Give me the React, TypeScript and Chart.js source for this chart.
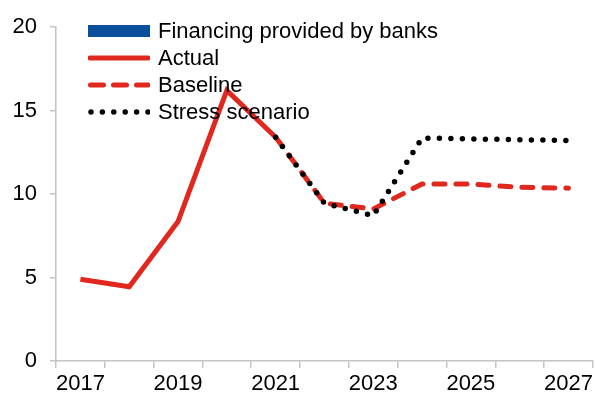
import React, { useEffect, useRef } from "react";
import { Chart, registerables } from "chart.js";

Chart.register(...registerables);

const years = ["2017", "2018", "2019", "2020", "2021", "2022", "2023", "2024", "2025", "2026", "2027"];
const bankFinancing: (number | null)[] = [null, null, null, null, null, null, null, null, null, null, null];
const actual: (number | null)[] = [4.9, 4.45, 8.35, 16.2, 13.4, null, null, null, null, null, null];
const baseline: (number | null)[] = [null, null, null, null, 13.4, 9.45, 9.1, 10.6, 10.6, 10.4, 10.35];
const stress: (number | null)[] = [null, null, null, null, 13.4, 9.45, 8.7, 13.35, 13.3, 13.25, 13.2];
const yTicks = [0, 5, 10, 15, 20];

const RED = "#e0281f";
const BLUE = "#0a4f9c";
const AXIS = "#c4c4c4";
const FONT = "'Liberation Sans', Arial, sans-serif";

const legendItems = [
  { label: "Financing provided by banks", kind: "box" },
  { label: "Actual", kind: "solid" },
  { label: "Baseline", kind: "dash" },
  { label: "Stress scenario", kind: "dot" },
];

function Symbol({ kind }: { kind: string }) {
  if (kind === "box") {
    return (
      <svg width={62} height={14} style={{ display: "block" }}>
        <rect x={0} y={1} width={62} height={12} fill={BLUE} />
      </svg>
    );
  }
  if (kind === "solid") {
    return (
      <svg width={62} height={14} style={{ display: "block" }}>
        <line x1={2} y1={7} x2={60} y2={7} stroke={RED} strokeWidth={5} strokeLinecap="round" />
      </svg>
    );
  }
  if (kind === "dash") {
    return (
      <svg width={62} height={14} style={{ display: "block" }}>
        <line x1={2.5} y1={7} x2={60} y2={7} stroke={RED} strokeWidth={5} strokeLinecap="round" strokeDasharray="13 10" />
      </svg>
    );
  }
  return (
    <svg width={62} height={14} style={{ display: "block" }}>
      <line x1={3} y1={7} x2={60} y2={7} stroke="#000" strokeWidth={5.5} strokeLinecap="round" strokeDasharray="0 11.4" />
    </svg>
  );
}

export default function App() {
  const canvasRef = useRef<HTMLCanvasElement | null>(null);

  useEffect(() => {
    if (!canvasRef.current) return;
    const chart = new Chart(canvasRef.current, {
      type: "bar",
      data: {
        labels: years,
        datasets: [
          {
            type: "bar",
            label: "Financing provided by banks",
            data: bankFinancing,
            backgroundColor: BLUE,
            order: 3,
          },
          {
            type: "line",
            label: "Actual",
            data: actual,
            borderColor: RED,
            borderWidth: 5,
            pointRadius: 0,
            borderJoinStyle: "miter",
            spanGaps: false,
            order: 2,
          },
          {
            type: "line",
            label: "Baseline",
            data: baseline,
            borderColor: RED,
            borderWidth: 5,
            borderDash: [11, 11],
            borderCapStyle: "round",
            pointRadius: 0,
            order: 1,
          },
          {
            type: "line",
            label: "Stress scenario",
            data: stress,
            borderColor: "#000",
            borderWidth: 5.5,
            borderDash: [0, 11.5],
            borderCapStyle: "round",
            pointRadius: 0,
            order: 0,
          },
        ] as any,
      },
      options: {
        responsive: false,
        animation: false,
        layout: { padding: { top: 27, right: 1, left: 0, bottom: 0 } },
        plugins: {
          legend: { display: false },
          tooltip: { enabled: false },
          title: { display: false },
        },
        scales: {
          x: {
            offset: true,
            grid: {
              offset: true,
              drawOnChartArea: false,
              drawTicks: true,
              tickLength: 7,
              color: AXIS,
              lineWidth: 1.5,
            },
            border: { color: AXIS, width: 1.5 },
            ticks: {
              autoSkip: false,
              maxRotation: 0,
              padding: 3,
              color: "#000",
              font: { family: FONT, size: 22 },
              callback: (_v: any, i: number) => (i % 2 === 0 ? years[i] : ""),
            },
            afterFit: (scale: any) => {
              scale.height = 35;
            },
          },
          y: {
            min: 0,
            max: 20,
            afterBuildTicks: (scale: any) => {
              scale.ticks = yTicks.map((v) => ({ value: v }));
            },
            grid: {
              drawOnChartArea: false,
              drawTicks: true,
              tickLength: 6,
              color: AXIS,
              lineWidth: 1.5,
            },
            border: { color: AXIS, width: 1.5 },
            ticks: {
              padding: 13,
              color: "#000",
              font: { family: FONT, size: 22 },
            },
            afterFit: (scale: any) => {
              scale.width = 56;
            },
          },
        },
      },
    });
    return () => chart.destroy();
  }, []);

  return (
    <div style={{ position: "fixed", left: 0, top: 0, width: 596, height: 396, background: "#fff" }}>
      <canvas ref={canvasRef} width={596} height={396} style={{ display: "block" }} />
      <div style={{ position: "absolute", left: 88, top: 17, fontFamily: FONT, fontSize: 22, color: "#000" }}>
        {legendItems.map((it) => (
          <div key={it.label} style={{ display: "flex", alignItems: "center", height: 27, lineHeight: "27px" }}>
            <Symbol kind={it.kind} />
            <span style={{ marginLeft: 8, whiteSpace: "nowrap" }}>{it.label}</span>
          </div>
        ))}
      </div>
    </div>
  );
}
